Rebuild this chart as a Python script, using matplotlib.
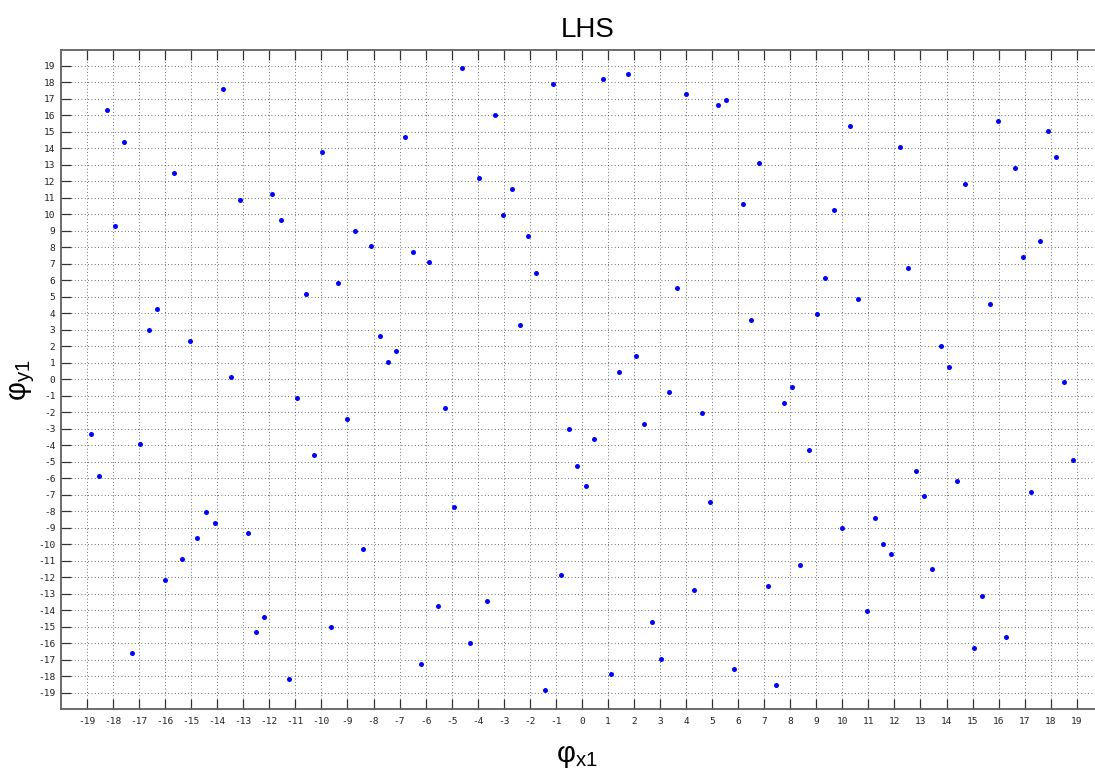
import numpy as np
import matplotlib
matplotlib.use("Agg")
import matplotlib.pyplot as plt

# LHS sample points
x_pts = [
    -13.79, -18.22, -17.59, -15.68, -11.88, -13.14, -11.56, -17.91, -10.60, -16.32,
    -16.63, -15.05, -13.46,
    -4.60, -1.11, -3.34, -6.81, -9.97, -3.96, -2.70, -3.02, -8.72, -2.07,
    -8.09, -6.50, -5.86, -1.75, -9.35, -2.38, -7.77, -7.13, -7.44,
    0.81, 1.76, 3.98, 5.55, 5.24, 6.81, 6.17, 9.67, 9.35, 3.65,
    6.49, 9.03, 2.08, 1.44,
    10.31, 15.98, 17.88, 12.20, 18.21, 16.62, 14.72, 17.57, 16.94, 12.52,
    10.61, 15.66, 13.77, 14.08,
    -10.94, -18.86, -16.95, -10.29, -18.54, -14.42, -14.09, -14.76, -12.82, -15.37,
    -16.01, -12.19, -12.51, -17.28, -11.26,
    -5.24, -9.03, -0.49, -0.18, -4.92, -8.40, -0.81, -3.65, -5.54, -9.65,
    -4.28, -6.18, -1.42,
    3.34, 8.08, 7.76, 4.60, 2.38, 0.48, 8.71, 0.15, 4.91, 8.39,
    7.13, 4.29, 2.70, 3.02, 1.12, 5.85, 7.45,
    18.52, 18.84, 12.84, 14.40, 17.25, 13.15, 11.24, 9.97, 11.56, 11.88,
    13.45, 15.36, 10.93, 16.30, 15.04,
]
y_pts = [
    17.58, 16.31, 14.38, 12.50, 11.23, 10.90, 9.65, 9.32, 5.19, 4.26,
    2.99, 2.34, 0.13,
    18.86, 17.89, 16.00, 14.71, 13.78, 12.20, 11.55, 9.95, 9.00, 8.68,
    8.07, 7.72, 7.10, 6.47, 5.82, 3.31, 2.64, 1.71, 1.06,
    18.21, 18.53, 17.28, 16.96, 16.61, 13.13, 10.60, 10.28, 6.17, 5.54,
    3.62, 3.94, 1.39, 0.46,
    15.36, 15.68, 15.03, 14.08, 13.45, 12.81, 11.85, 8.37, 7.42, 6.77,
    4.89, 4.57, 2.04, 0.74,
    -1.12, -3.32, -3.95, -4.59, -5.86, -8.06, -8.71, -9.64, -9.33, -10.91,
    -12.18, -14.40, -15.35, -16.60, -18.21,
    -1.75, -2.39, -3.02, -5.24, -7.76, -10.30, -11.86, -13.45, -13.77, -15.05,
    -15.97, -17.25, -18.82,
    -0.80, -0.47, -1.42, -2.07, -2.69, -3.64, -4.27, -6.47, -7.44, -11.25,
    -12.52, -12.81, -14.70, -16.94, -17.89, -17.57, -18.52,
    -0.15, -4.89, -5.56, -6.17, -6.81, -7.09, -8.39, -9.01, -9.98, -10.61,
    -11.53, -13.15, -14.08, -15.65, -16.32,
]
tick_vals = list(range(-19, 20))

plt.rcParams['font.family'] = ['Liberation Sans', 'DejaVu Sans']

fig = plt.figure(figsize=(10.95, 7.74), dpi=100, facecolor='white')
ax = fig.add_axes([61 / 1095, 65 / 774, 1034 / 1095, 659.5 / 774])

ax.plot(x_pts, y_pts, 'o', color='#0000ff', markersize=3.6,
        markeredgewidth=0, zorder=3)

ax.set_xlim(-20, 19.7)
ax.set_ylim(-20, 20)
ax.set_xticks(tick_vals)
ax.set_yticks(tick_vals)
ax.set_xticklabels([str(v) for v in tick_vals], family='DejaVu Sans Mono', fontsize=6.8)
ax.set_yticklabels([str(v) for v in tick_vals], family='DejaVu Sans Mono', fontsize=6.8)
ax.tick_params(axis='both', direction='in', length=7, width=0.9, color='#333333',
               labelcolor='#222222', top=True, right=False)
ax.tick_params(axis='x', pad=6)
ax.tick_params(axis='y', pad=4)

# dotted grid every unit
ax.grid(True, color='#3a3a3a', linestyle=(0, (1, 3)), linewidth=0.6)
ax.set_axisbelow(True)

for name, spine in ax.spines.items():
    spine.set_color('#606060')
    spine.set_linewidth(1.3)
ax.spines['right'].set_visible(False)

fig.text(588 / 1095, 1 - 30 / 774, 'LHS', ha='center', va='center', fontsize=20)
fig.text(577 / 1095, 1 - 756 / 774, 'φ$_{\\mathregular{x1}}$', ha='center', va='center',
         fontsize=21)
fig.text(22 / 1095, 1 - 380 / 774, 'φ$_{\\mathregular{y1}}$', ha='center', va='center',
         fontsize=21, rotation=90)

fig.savefig('out.png', dpi=100, facecolor='white')
